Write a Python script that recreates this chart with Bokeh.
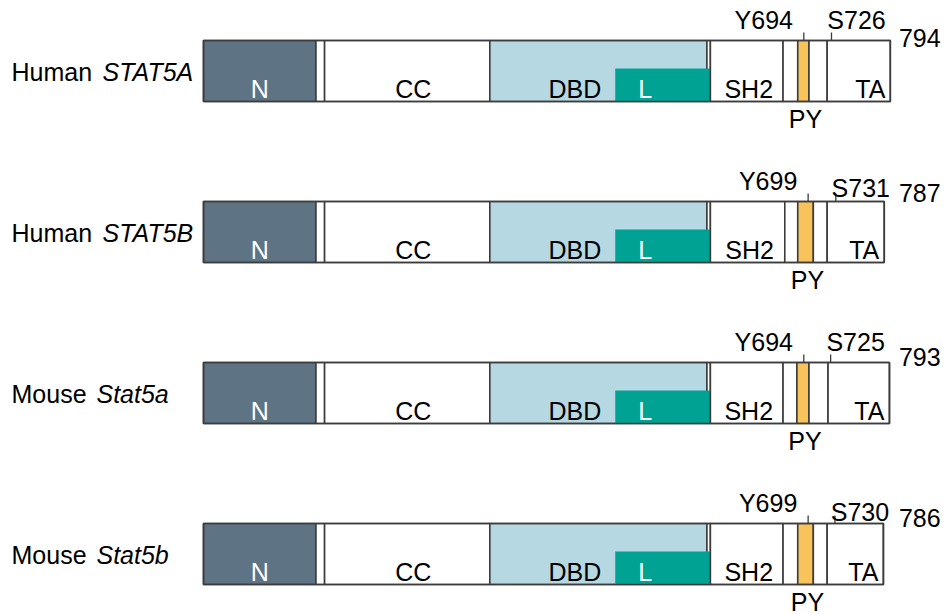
from bokeh.plotting import figure
from bokeh.models import Range1d, ColumnDataSource
from bokeh.embed import file_html
from bokeh.resources import INLINE
from bokeh.core.properties import value

# ---------------- data (residue numbers) ----------------
species = ["Human", "Human", "Mouse", "Mouse"]
genes = ["STAT5A", "STAT5B", "Stat5a", "Stat5b"]
lengths = [794, 787, 793, 786]
tyr_sites = [694, 699, 694, 699]
ser_sites = [726, 731, 725, 730]
n_end = [130, 130, 130, 130]
cc_start = [140, 140, 140, 140]
cc_end = [331, 331, 331, 331]
dbd_end = [582, 582, 582, 582]
linker_start = [476, 476, 476, 476]
sh2_start = [586, 586, 586, 586]
sh2_end = [670, 672, 670, 670]
py_start = [687, 687, 686, 687]
py_end = [700, 705, 700, 705]
ta_start = [721, 721, 722, 721]

# ---------------- layout / style ----------------
W, H = 947, 614
K = 0.865          # px per residue
X0 = 203           # screen x of residue 0
ROW_TOP0, ROW_STEP, BAR_H = 40, 161, 61
L_TOP = 28
FONT = "Liberation Sans"
FS = "25px"
LINE = "#3c3c3c"
LW = 1.6
C_N = "#5e7384"
C_DBD = "#b5d8e3"
C_L = "#00a294"
C_PY = "#f7c35a"
s_dy = [-21, -14, -21, -12]
num_dy = [-3, -9, -6, -6]
gene_px = [102, 102, 96, 96]

def px(sx):
    return (sx - X0) / K

p = figure(width=W, height=H, output_backend="svg", toolbar_location=None,
           x_range=Range1d(px(0), px(0) + W / K), y_range=Range1d(H, 0),
           min_border=0, outline_line_color=None)
p.axis.visible = False
p.grid.visible = False
p.background_fill_color = "white"

tops = [ROW_TOP0 + ROW_STEP * i for i in range(4)]
bots = [t + BAR_H for t in tops]

def boxes(lefts, rights, top, bot, fill, line=True):
    src = ColumnDataSource(dict(left=lefts, right=rights, top=top, bottom=bot))
    p.quad(left="left", right="right", top="top", bottom="bottom", source=src,
           fill_color=fill, line_color=LINE if line else None, line_width=LW)

zeros = [0] * 4
# N-terminal to DBD part
boxes(zeros, n_end, tops, bots, C_N)
boxes(n_end, cc_start, tops, bots, "white")
boxes(cc_start, cc_end, tops, bots, "white")
boxes(cc_end, dbd_end, tops, bots, C_DBD)
boxes(dbd_end, sh2_start, tops, bots, "white")
# linker
boxes(linker_start, sh2_start, [t + L_TOP for t in tops], bots, C_L, line=False)
# C-terminal part
boxes(sh2_start, sh2_end, tops, bots, "white")
boxes(sh2_end, py_start, tops, bots, "white")
boxes(py_start, py_end, tops, bots, C_PY)
boxes(py_end, ta_start, tops, bots, "white")
boxes(ta_start, lengths, tops, bots, "white")
# outer outline
src = ColumnDataSource(dict(left=zeros, right=lengths, top=tops, bottom=bots))
p.quad(left="left", right="right", top="top", bottom="bottom", source=src,
       fill_alpha=0, line_color=LINE, line_width=LW)

# site ticks
p.segment(x0=tyr_sites, x1=tyr_sites, y0=tops, y1=[t - 8 for t in tops],
          line_color=LINE, line_width=1.3)
p.segment(x0=ser_sites, x1=ser_sites, y0=tops, y1=[t - 8 for t in tops],
          line_color=LINE, line_width=1.3)

def txt(x, y, t, color="black", align="center", style="normal", xoff=0):
    p.text(x=x, y=y, text=t, text_color=color, text_align=align,
           text_baseline="middle", text_font=value(FONT), text_font_size=FS,
           text_font_style=style, x_offset=xoff)

lab_y = [b - 13 for b in bots]
# domain labels
txt([e / 2 for e in n_end], lab_y, ["N"] * 4, color="white")
txt([(a + b) / 2 for a, b in zip(cc_start, cc_end)], lab_y, ["CC"] * 4, xoff=6)
txt(linker_start, lab_y, ["DBD"] * 4, align="right", xoff=-14)
txt(linker_start, lab_y, ["L"] * 4, color="white", xoff=30)
txt([(a + b) / 2 for a, b in zip(sh2_start, sh2_end)], lab_y, ["SH2"] * 4, xoff=2)
txt(lengths, lab_y, ["TA"] * 4, align="right", xoff=-5)
txt([(a + b) / 2 for a, b in zip(py_start, py_end)], [b + 17 for b in bots],
    ["PY"] * 4, xoff=2)
# site labels
txt(tyr_sites, [t - 21 for t in tops], ["Y%d" % v for v in tyr_sites], xoff=-40)
txt(ser_sites, [t + d for t, d in zip(tops, s_dy)], ["S%d" % v for v in ser_sites], xoff=25)
# lengths
txt([max(lengths) + 10] * 4, [t + d for t, d in zip(tops, num_dy)],
    [str(v) for v in lengths], align="left")
# row labels
mid = [(t + b) / 2 + 1 for t, b in zip(tops, bots)]
txt([px(11)] * 4, mid, species, align="left")
txt([px(g) for g in gene_px], mid, genes, align="left", style="italic")

open("out.html", "w").write(file_html(p, INLINE))
